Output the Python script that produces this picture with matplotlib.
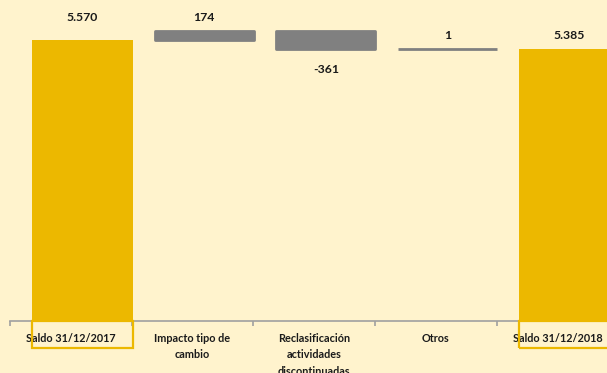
import matplotlib
matplotlib.use('Agg')
from matplotlib import pyplot as plt
from matplotlib.patches import Rectangle

# waterfall data
categories = ['Saldo 31/12/2017', 'Impacto tipo de\ncambio', 'Reclasificación\nactividades\ndiscontinuadas',
              'Otros', 'Saldo 31/12/2018']
start_value = 5570
deltas = [174, -361, 1]
end_value = 5385
value_labels = ['5.570', '174', '-361', '1', '5.385']

bg = '#FFF3CD'
yellow = '#ECB800'
gray = '#808080'
plt.rcParams['font.family'] = ['Lato', 'DejaVu Sans']

fig = plt.figure(figsize=(6.07, 3.73), dpi=100, facecolor=bg)
ax = fig.add_axes([10 / 607, 52 / 373, 597 / 607, 321 / 373])
ax.set_facecolor(bg)

offset = 0.095  # bars sit a bit right of the category centre
width = 0.83

# totals
for i, v in [(0, start_value), (4, end_value)]:
    ax.bar(i + offset, v, width=width, color=yellow, zorder=3)
    # outline box around the total's label
    ax.add_patch(Rectangle((i + offset - width / 2, -535), width, 535, fill=False,
                           edgecolor=yellow, linewidth=1.6, clip_on=False, zorder=3))

# changes
running = start_value
for k, d in enumerate(deltas):
    i = k + 1
    bottom = running if d >= 0 else running + d
    ax.bar(i + offset, abs(d), bottom=bottom, width=0.815, color=gray,
           edgecolor=gray, linewidth=2.0, joinstyle='round', zorder=3)
    running += d

# value labels
tops = [start_value, start_value + deltas[0], start_value + deltas[0] + deltas[1],
        start_value + sum(deltas), end_value]
label_offsets = [23, 14, -20, 14, 14]
for i, (t, lab, off) in enumerate(zip(tops, value_labels, label_offsets)):
    y = t if off > 0 else start_value + deltas[0] + deltas[1]
    ax.annotate(lab, (i + offset, y), xytext=(0, off), textcoords='offset pixels',
                ha='center', va='center', fontsize=8.8, fontweight='bold', color='#1a1a1a')

ax.set_xlim(-0.5, -0.5 + 597 / 121.7)
ax.set_ylim(0, 6363)
ax.set_yticks([])
for s in ['top', 'left', 'right']:
    ax.spines[s].set_visible(False)
ax.spines['bottom'].set_color('#A0A0A0')
ax.spines['bottom'].set_linewidth(1.2)

ax.set_xticks(range(len(categories)))
ax.set_xticklabels(categories, fontsize=7.8, fontweight='bold', color='#1a1a1a', linespacing=1.62)
ax.tick_params(axis='x', which='major', length=0, pad=8.5)
ax.set_xticks([-0.5, 0.5, 1.5, 2.5, 3.5], minor=True)
ax.tick_params(axis='x', which='minor', length=3.5, width=1.2, color='#A0A0A0', direction='out')

plt.savefig('out.png', dpi=100, facecolor=bg)
